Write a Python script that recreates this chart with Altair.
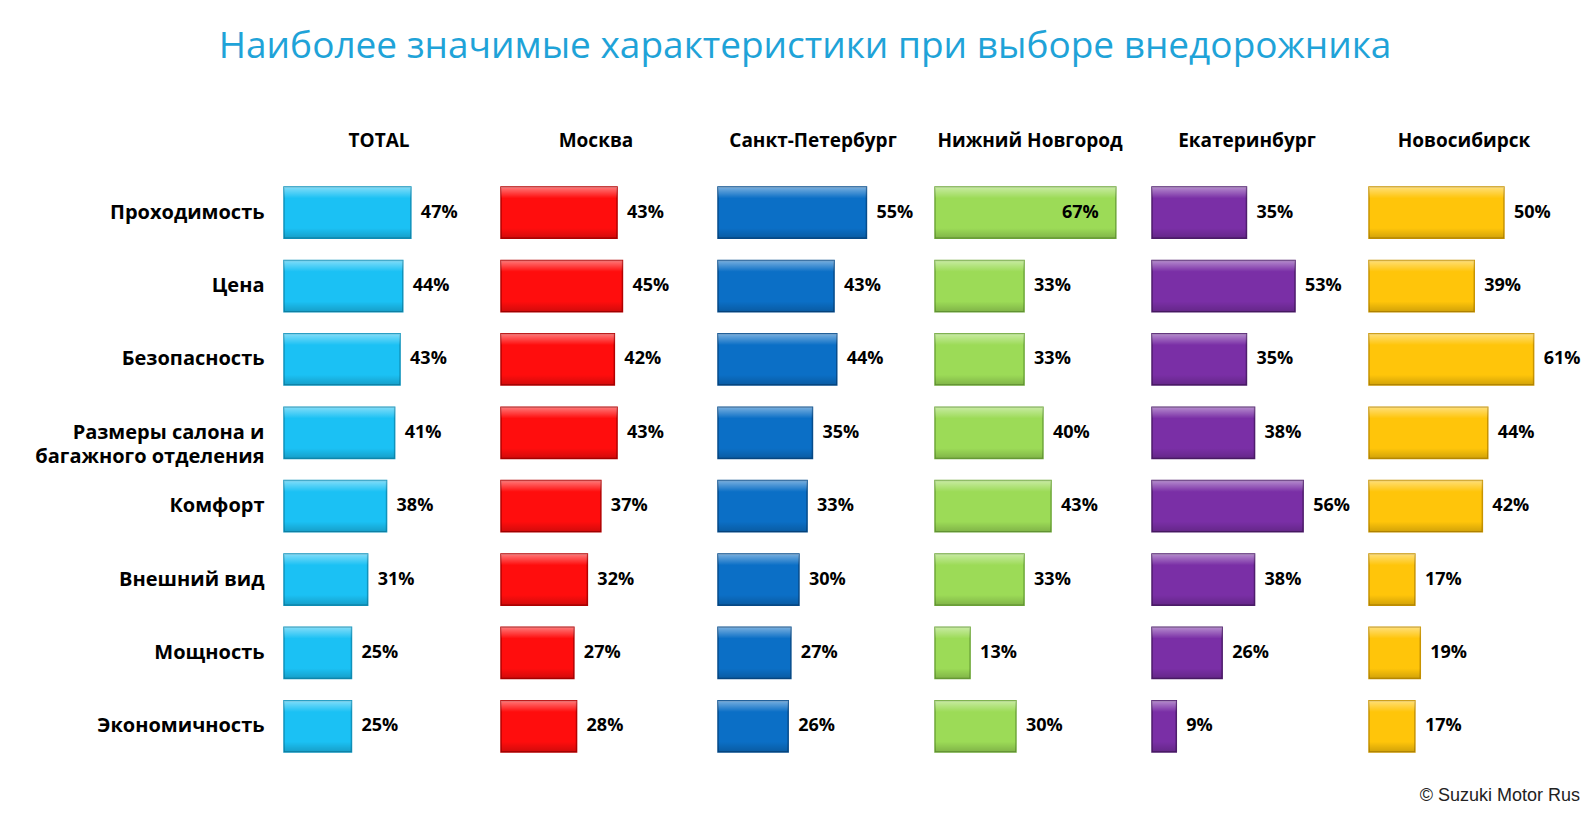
import altair as alt
import pandas as pd

title_text = "Наиболее значимые характеристики при выборе внедорожника"
copyright_text = "© Suzuki Motor Rus"

features = ["Проходимость", "Цена", "Безопасность", "Размеры салона  и|багажного  отделения",
            "Комфорт", "Внешний вид", "Мощность", "Экономичность"]
regions = ["TOTAL", "Москва", "Санкт-Петербург", "Нижний  Новгород", "Екатеринбург", "Новосибирск"]

total = [47, 44, 43, 41, 38, 31, 25, 25]
moscow = [43, 45, 42, 43, 37, 32, 27, 28]
spb = [55, 43, 44, 35, 33, 30, 27, 26]
nnov = [67, 33, 33, 40, 43, 33, 13, 30]
ekb = [35, 53, 35, 38, 56, 38, 26, 9]
nsk = [50, 39, 61, 44, 42, 17, 19, 17]

fill_colors = ["#1BC1F4", "#FF0D0D", "#0B6FC6", "#9CDB57", "#7A2FA6", "#FFC50A"]
stroke_colors = ["#0F93BC", "#B50000", "#064C8C", "#6FA83A", "#4F1D6D", "#C89400"]

series = [total, moscow, spb, nnov, ekb, nsk]
rows = []
for reg, vals in zip(regions, series):
    for f, v in zip(features, vals):
        rows.append({"region": reg, "feature": f, "value": v})
df = pd.DataFrame(rows)

FONT = "Open Sans"
PLOT_H = 587

base = alt.Chart().transform_calculate(label="datum.value + '%'")

y_enc = alt.Y("feature:N", sort=features,
              scale=alt.Scale(paddingInner=0.3, paddingOuter=0.15),
              axis=alt.Axis(title=None, labelExpr="split(datum.label, '|')",
                            labelFontSize=20, labelFontWeight="bold", labelFont=FONT,
                            labelColor="black", ticks=False, domain=False,
                            labelPadding=20, labelLimit=400, labelLineHeight=24))
x_enc = alt.X("value:Q", scale=alt.Scale(domain=[0, 70.4], nice=False, zero=True), axis=None)

bars = base.mark_bar(strokeWidth=1.5).encode(
    x=x_enc, y=y_enc,
    color=alt.Color("region:N", scale=alt.Scale(domain=regions, range=fill_colors), legend=None),
    stroke=alt.Stroke("region:N", scale=alt.Scale(domain=regions, range=stroke_colors), legend=None),
)

# bevel-like shading on top of each bar
bevel = base.mark_bar(
    color=alt.Gradient(
        gradient="linear", x1=0, y1=0, x2=0, y2=1,
        stops=[
            alt.GradientStop(color="rgba(255,255,255,0.45)", offset=0),
            alt.GradientStop(color="rgba(255,255,255,0.0)", offset=0.22),
            alt.GradientStop(color="rgba(0,0,0,0.0)", offset=0.8),
            alt.GradientStop(color="rgba(0,0,0,0.18)", offset=1),
        ],
    )
).encode(x=x_enc, y=y_enc)

text_out = base.mark_text(align="left", baseline="middle", dx=10, fontSize=18,
                          fontWeight="bold", font=FONT, color="black").encode(
    x=x_enc, y=y_enc, text="label:N"
).transform_filter("datum.value < 65")

text_in = base.mark_text(align="right", baseline="middle", dx=-17, fontSize=18,
                         fontWeight="bold", font=FONT, color="black").encode(
    x=x_enc, y=y_enc, text="label:N"
).transform_filter("datum.value >= 65")

# copyright note, drawn once (in the last panel) below the plot area
note = alt.Chart().mark_text(align="right", baseline="middle", fontSize=18,
                             font="Liberation Sans", color="#222222").encode(
    text=alt.value(copyright_text), x=alt.value(211), y=alt.value(PLOT_H + 33)
).transform_filter(
    alt.FieldEqualPredicate(field="region", equal=regions[-1])
).transform_filter(
    alt.FieldEqualPredicate(field="feature", equal=features[-1])
)

chart = alt.layer(bars, bevel, text_out, text_in, note, data=df).properties(
    width=190, height=PLOT_H
).facet(
    column=alt.Column("region:N", sort=regions,
                      header=alt.Header(title=None, labelFontSize=19, labelFontWeight="bold",
                                        labelFont=FONT, labelColor="black", labelOrient="top",
                                        labelPadding=25)),
    spacing=27,
    bounds="flush",
).properties(
    title=alt.TitleParams(title_text, fontSize=37, font=FONT, fontWeight="normal",
                          color="#1FA3D8", anchor="middle", offset=66),
    padding={"top": 20, "left": 21, "right": 0, "bottom": 0},
).configure_view(stroke=None)

chart.save("out.html", embed_options={"renderer": "svg", "actions": False})
